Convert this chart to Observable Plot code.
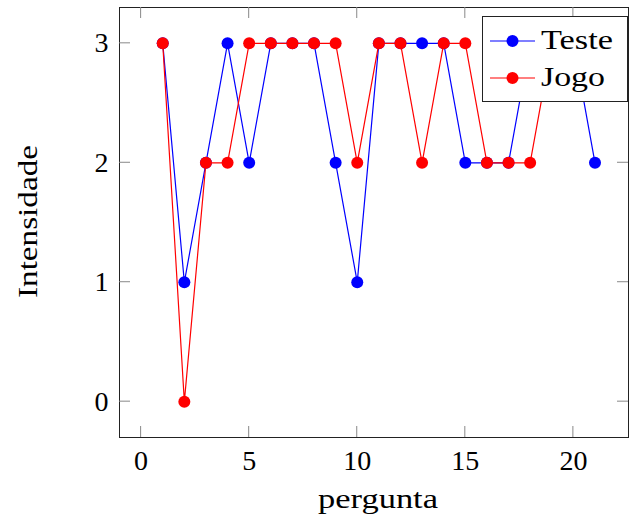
<!DOCTYPE html>
<html>
<head>
<meta charset="utf-8">
<script src="https://cdn.jsdelivr.net/npm/d3@7"></script>
<script src="https://cdn.jsdelivr.net/npm/@observablehq/plot@0.6"></script>
<style>
  html, body { margin: 0; padding: 0; background: white; overflow: hidden; }
  svg text { font-weight: normal; }
</style>
</head>
<body>
<div id="chart"></div>
<script>
// Data
const perguntaTeste = [1,2,3,4,5,6,7,8,9,10,11,12,13,14,15,16,17,18,19,20,21];
const valoresTeste  = [3,1,2,3,2,3,3,3,2,1,3,3,3,3,2,2,2,3,3,3,2];
const perguntaJogo  = [1,2,3,4,5,6,7,8,9,10,11,12,13,14,15,16,17,18,19];
const valoresJogo   = [3,0,2,2,3,3,3,3,3,2,3,3,2,3,3,2,2,2,3];
const xTicks = [0,5,10,15,20];
const yTicks = [0,1,2,3];
const seriesNames = ["Teste","Jogo"];
const seriesColors = ["#0000ff","#ff0000"];

const teste = perguntaTeste.map((p,i) => ({p, v: valoresTeste[i]}));
const jogo  = perguntaJogo.map((p,i) => ({p, v: valoresJogo[i]}));

const FONT = "Liberation Serif";

const chart = Plot.plot({
  width: 629,
  height: 517,
  marginLeft: 119,
  marginRight: 1,
  marginTop: 7,
  marginBottom: 80,
  style: {fontFamily: FONT, fontSize: "28px", background: "white", color: "black"},
  x: {domain: [-1, 22.55]},
  y: {domain: [-0.3, 3.3]},
  marks: [
    Plot.axisX({ticks: xTicks, tickSize: 0, tickPadding: 13, label: null, tickFormat: d => String(d)}),
    Plot.axisY({ticks: yTicks, tickSize: 0, tickPadding: 11, label: null, tickFormat: d => String(d)}),
    Plot.lineY(teste, {x: "p", y: "v", stroke: seriesColors[0], strokeWidth: 1.2}),
    Plot.dot(teste, {x: "p", y: "v", r: 6, fill: seriesColors[0], stroke: "none"}),
    Plot.lineY(jogo, {x: "p", y: "v", stroke: seriesColors[1], strokeWidth: 1.2}),
    Plot.dot(jogo, {x: "p", y: "v", r: 6, fill: seriesColors[1], stroke: "none"}),
    Plot.frame({stroke: "#222", strokeWidth: 1})
  ]
});

document.getElementById("chart").appendChild(chart);

// Inward tick marks on all four sides, using the chart's scales
const sx = chart.scale("x"), sy = chart.scale("y");
const svg = d3.select(chart);
const L = 119, R = 628, T = 7, B = 437, TL = 11;
const g = svg.append("g").attr("stroke", "#888").attr("stroke-width", 1);
xTicks.forEach(t => {
  const x = sx.apply(t);
  g.append("line").attr("x1", x).attr("x2", x).attr("y1", B).attr("y2", B - TL);
  g.append("line").attr("x1", x).attr("x2", x).attr("y1", T).attr("y2", T + TL);
});
yTicks.forEach(t => {
  const y = sy.apply(t);
  g.append("line").attr("x1", L).attr("x2", L + TL).attr("y1", y).attr("y2", y);
  g.append("line").attr("x1", R).attr("x2", R - TL).attr("y1", y).attr("y2", y);
});

// Axis labels
svg.append("text")
  .attr("x", 378).attr("y", 508)
  .attr("text-anchor", "middle")
  .attr("font-family", FONT).attr("font-size", 28)
  .attr("textLength", 120).attr("lengthAdjust", "spacingAndGlyphs")
  .text("pergunta");
svg.append("text")
  .attr("transform", "translate(37,221.5) rotate(-90)")
  .attr("text-anchor", "middle")
  .attr("font-family", FONT).attr("font-size", 28)
  .attr("textLength", 153).attr("lengthAdjust", "spacingAndGlyphs")
  .text("Intensidade");

// Legend
const lg = svg.append("g");
lg.append("rect").attr("x", 482.5).attr("y", 16.5).attr("width", 145).attr("height", 85)
  .attr("fill", "white").attr("stroke", "#222").attr("stroke-width", 1);
const rowsY = [41, 78];
const textW = [72, 64];
seriesNames.forEach((name, i) => {
  const y = rowsY[i];
  lg.append("line").attr("x1", 490).attr("x2", 535).attr("y1", y).attr("y2", y)
    .attr("stroke", seriesColors[i]).attr("stroke-width", 1.2);
  lg.append("circle").attr("cx", 512.5).attr("cy", y).attr("r", 6).attr("fill", seriesColors[i]);
  lg.append("text").attr("x", 541).attr("y", y + 8)
    .attr("text-anchor", "start")
    .attr("font-family", FONT).attr("font-size", 28)
    .attr("textLength", textW[i]).attr("lengthAdjust", "spacingAndGlyphs")
    .text(name);
});
</script>
</body>
</html>
